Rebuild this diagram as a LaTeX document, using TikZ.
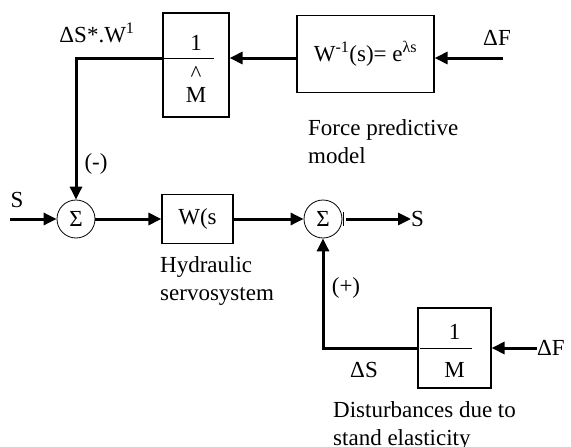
\documentclass[tikz,border=0pt]{standalone}
\usepackage{fontspec}
\setmainfont{Liberation Serif}
\usepackage{tikz}
\usetikzlibrary{shapes,arrows,positioning,calc,arrows.meta}

\tikzset{
    block/.style={draw, line width=1.2pt, rectangle, inner sep=0pt},
    sumnode/.style={draw, line width=0.8pt, circle, minimum size=38pt, inner sep=0pt},
    sig/.style={line width=3pt, -{Triangle[length=13pt,width=12pt]}},
    fracline/.style={line width=1pt},
    lbl/.style={inner sep=0pt},
}

\begin{document}
\begin{tikzpicture}[x=1pt, y=-1pt, font=\fontsize{23}{28}\selectfont]
    \useasboundingbox (0,0) rectangle (571,447);

    % Force predictive model
    \node [block, minimum width=137pt, minimum height=77pt] (predict) at (365.5,54) {W\textsuperscript{-1}(s)= e\textsuperscript{λs}};
    \coordinate (dFtopend) at (503,58);
    \node [lbl, anchor=south] (dFtop) at (497,46) {ΔF};
    \draw [sig] (dFtopend) -- (dFtopend -| predict.east);
    \node [lbl, anchor=north west, align=left] (predictlbl) at (308,119) {Force predictive\\model};

    % Inverse mass estimate
    \node [block, minimum width=66pt, minimum height=104pt] (invM) at (196,65) {};
    \node [lbl] (invMnum) at (196,43) {1};
    \node [lbl] (invMhat) at (196,74) {\textasciicircum};
    \node [lbl] (invMden) at (196,95) {M};
    \draw [fracline] (invM.west |- dFtopend) -- ++(52,0);
    \draw [sig] (predict.west |- dFtopend) -- (invM.east |- dFtopend);
    \node [lbl] (dSW) at (97,33) {ΔS*.W\textsuperscript{1}};

    % Main loop
    \node [sumnode] (sum1) at (76,219) {Σ};
    \draw [sig] (invM.west |- dFtopend) -| (sum1.north);
    \node [lbl] (minus) at (96,164) {(-)};
    \coordinate (Sin) at (10,219);
    \node [lbl] (Sinlbl) at (17,200) {S};
    \draw [sig] (Sin) -- (sum1.west);

    \node [block, minimum width=71pt, minimum height=49pt] (servo) at (197.5,219) {W(s};
    \draw [sig] (sum1.east) -- (servo.west);
    \node [lbl, anchor=north west, align=left] (servolbl) at (160,256) {Hydraulic\\servosystem};

    \node [sumnode] (sum2) at (323,219) {Σ};
    \draw [sig] (servo.east) -- (sum2.west);
    \draw [fracline] ($(sum2.east)+(1,-7)$) -- ++(0,14);
    \node [lbl, anchor=west] (Sout) at (411,219) {S};
    \draw [sig] ($(sum2.east)+(4,0)$) -- (Sout.west);

    % Stand elasticity
    \node [block, minimum width=73pt, minimum height=80pt] (elast) at (454.5,348) {};
    \node [lbl] (elastnum) at (454.5,332) {1};
    \node [lbl] (elastden) at (454.5,370) {M};
    \draw [fracline] ($(elast.west)+(3,0)$) -- ++(52,0);
    \draw [sig] (elast.west) -| (sum2.south);
    \node [lbl] (plus) at (346,288) {(+)};
    \node [lbl] (dS) at (364,370) {ΔS};
    \node [lbl, anchor=west] (dFbot) at (537,348) {ΔF};
    \draw [sig] (dFbot.west) -- (elast.east);
    \node [lbl, anchor=north west, align=left] (elastlbl) at (333,401) {Disturbances due to\\stand elasticity};
\end{tikzpicture}
\end{document}
